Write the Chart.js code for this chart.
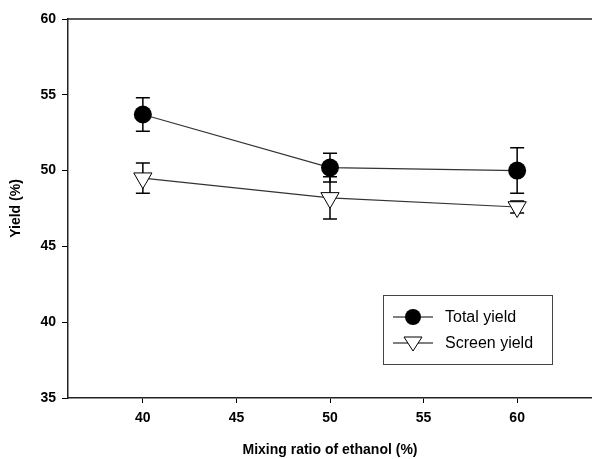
<!DOCTYPE html>
<html>
<head>
<meta charset="utf-8">
<script src="https://cdn.jsdelivr.net/npm/chart.js@4"></script>
<style>
  html, body { margin: 0; padding: 0; background: #fff; }
  #wrap { width: 592px; height: 459px; }
</style>
</head>
<body>
<div id="wrap"><canvas id="c" width="592" height="459"></canvas></div>
<script>
// values
const ratios = [40, 50, 60];
const totalYield = [53.7, 50.2, 50.0];
const totalErr = [1.1, 0.95, 1.5];
const screenYield = [49.5, 48.2, 47.6];
const screenErr = [1.0, 1.4, 0.4];

const xTicks = [40, 45, 50, 55, 60];
const font = "'Liberation Sans', Arial, sans-serif";

// error bars from the arrays above
const errorBars = {
    id: "errorBars",
    beforeDatasetsDraw(chart) {
        const ctx = chart.ctx;
        const x = chart.scales.x, y = chart.scales.y;
        const sets = [[totalYield, totalErr], [screenYield, screenErr]];
        ctx.save();
        ctx.strokeStyle = "#000";
        ctx.lineWidth = 1.5;
        sets.forEach(([vals, errs]) => {
            vals.forEach((v, i) => {
                const px = x.getPixelForValue(ratios[i]);
                const top = y.getPixelForValue(v + errs[i]);
                const bot = y.getPixelForValue(v - errs[i]);
                ctx.beginPath();
                ctx.moveTo(px, top); ctx.lineTo(px, bot);
                ctx.moveTo(px - 7, top); ctx.lineTo(px + 7, top);
                ctx.moveTo(px - 7, bot); ctx.lineTo(px + 7, bot);
                ctx.stroke();
            });
        });
        ctx.restore();
    }
};

// top frame line + boxed legend
const frameAndLegend = {
    id: "frameAndLegend",
    afterDraw(chart) {
        const ctx = chart.ctx;
        const a = chart.chartArea;
        ctx.save();
        ctx.strokeStyle = "#222";
        ctx.lineWidth = 1.5;
        ctx.beginPath();
        ctx.moveTo(a.left, a.top);
        ctx.lineTo(a.right, a.top);
        ctx.stroke();

        // legend box
        const bx = 383, by = 295, bw = 169, bh = 69;
        ctx.strokeStyle = "#444";
        ctx.lineWidth = 1;
        ctx.fillStyle = "#fff";
        ctx.fillRect(bx, by, bw, bh);
        ctx.strokeRect(bx + 0.5, by + 0.5, bw, bh);

        const rows = [
            { y: 317, label: "Total yield", tri: false },
            { y: 343, label: "Screen yield", tri: true }
        ];
        rows.forEach(r => {
            ctx.strokeStyle = "#000";
            ctx.lineWidth = 1;
            ctx.beginPath();
            ctx.moveTo(393, r.y); ctx.lineTo(433, r.y);
            ctx.stroke();
            if (r.tri) {
                ctx.fillStyle = "#fff";
                ctx.beginPath();
                ctx.moveTo(404, r.y - 6);
                ctx.lineTo(422, r.y - 6);
                ctx.lineTo(413, r.y + 8);
                ctx.closePath();
                ctx.fill();
                ctx.stroke();
            } else {
                ctx.fillStyle = "#000";
                ctx.beginPath();
                ctx.arc(413, r.y, 8, 0, Math.PI * 2);
                ctx.fill();
            }
            ctx.fillStyle = "#000";
            ctx.font = "16px " + font;
            ctx.textBaseline = "middle";
            ctx.fillText(r.label, 445, r.y + 1);
        });
        ctx.restore();
    }
};

new Chart(document.getElementById("c"), {
    type: "line",
    data: {
        datasets: [
            {
                label: "Total yield",
                data: ratios.map((x, i) => ({ x: x, y: totalYield[i] })),
                borderColor: "#333",
                borderWidth: 1.2,
                pointStyle: "circle",
                pointRadius: 9,
                pointBackgroundColor: "#000",
                pointBorderColor: "#000",
                pointBorderWidth: 0
            },
            {
                label: "Screen yield",
                data: ratios.map((x, i) => ({ x: x, y: screenYield[i] })),
                borderColor: "#333",
                borderWidth: 1.2,
                pointStyle: "triangle",
                pointRotation: 180,
                pointRadius: 10.5,
                pointBackgroundColor: "#fff",
                pointBorderColor: "#000",
                pointBorderWidth: 1
            }
        ]
    },
    options: {
        responsive: false,
        animation: false,
        layout: { autoPadding: false, padding: { top: 19, right: 0, bottom: 0, left: 0 } },
        plugins: { legend: { display: false }, tooltip: { enabled: false } },
        scales: {
            x: {
                type: "linear",
                min: 36,
                max: 64,
                afterBuildTicks: s => { s.ticks = xTicks.map(v => ({ value: v })); },
                afterFit: s => { s.height = 61; s.paddingRight = 0; s.paddingLeft = 0; },
                grid: { drawOnChartArea: false, tickLength: 5, color: "#000", tickWidth: 1 },
                border: { color: "#222", width: 1.5 },
                ticks: { color: "#000", padding: 7, font: { family: font, size: 14, weight: "bold" } },
                title: {
                    display: true,
                    text: "Mixing ratio of ethanol (%)",
                    color: "#000",
                    padding: { top: 6, bottom: 0 },
                    font: { family: font, size: 14, weight: "bold" }
                }
            },
            y: {
                min: 35,
                max: 60,
                ticks: { stepSize: 5, color: "#000", padding: 6, font: { family: font, size: 14, weight: "bold" } },
                afterFit: s => { s.width = 68; },
                grid: { drawOnChartArea: false, tickLength: 6, color: "#000", tickWidth: 1 },
                border: { color: "#222", width: 1.5 },
                title: {
                    display: true,
                    text: "Yield (%)",
                    color: "#000",
                    padding: { top: 8, bottom: 0 },
                    font: { family: font, size: 14, weight: "bold" }
                }
            }
        }
    },
    plugins: [errorBars, frameAndLegend]
});
</script>
</body>
</html>
